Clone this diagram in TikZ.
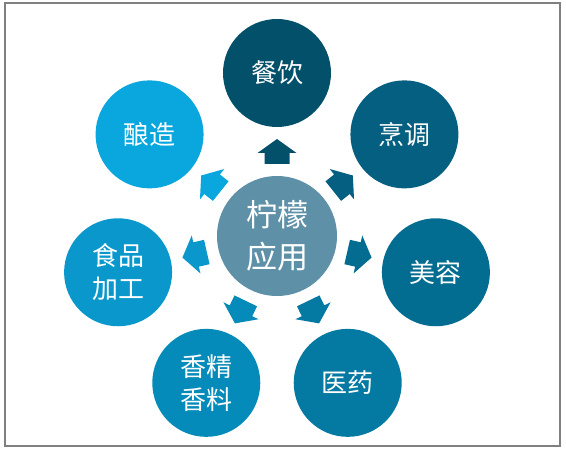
\documentclass[tikz,border=0pt]{standalone}
\usepackage{fontspec}
\setmainfont{Noto Sans CJK SC}
\definecolor{cA}{HTML}{03506B}
\definecolor{cB}{HTML}{045F80}
\definecolor{cC}{HTML}{036C91}
\definecolor{cD}{HTML}{0479A1}
\definecolor{cE}{HTML}{058BB9}
\definecolor{cF}{HTML}{0A98CC}
\definecolor{cG}{HTML}{0AA6DE}
\definecolor{cCenter}{HTML}{5E91A8}
\definecolor{frameGray}{HTML}{808080}
\tikzset{
  petal/.style={circle, inner sep=0pt, minimum size=108pt, text=white,
    align=center, font=\fontsize{26}{33}\selectfont},
  hub/.style={circle, inner sep=0pt, minimum size=120pt, text=white,
    align=center, fill=cCenter, font=\fontsize{31}{42}\selectfont},
}
\begin{document}
\begin{tikzpicture}[x=1pt,y=1pt]
\useasboundingbox (0,0) rectangle (566,450);
\draw[frameGray, line width=1.2pt] (5,447) rectangle (560,4);
\coordinate (C) at (277,214);
\node[hub] (hub) at (C) {柠檬\\应用};
\foreach \k/\col/\txt in {0/cA/餐饮,1/cB/烹调,2/cC/美容,3/cD/医药,4/cE/香精\\香料,5/cF/食品\\加工,6/cG/酿造}{
  \pgfmathsetmacro{\ang}{90-\k*360/7}
  \node[petal, fill=\col] (p\k) at ([shift={(C)}]\ang:163) {\txt};
  \begin{scope}[shift={(C)}, rotate=\ang]
    \fill[\col] (72,-12.5) -- (83,-12.5) -- (83,-19.5) -- (97,0) -- (83,19.5) -- (83,12.5) -- (72,12.5) -- cycle;
  \end{scope}
}
\end{tikzpicture}
\end{document}
